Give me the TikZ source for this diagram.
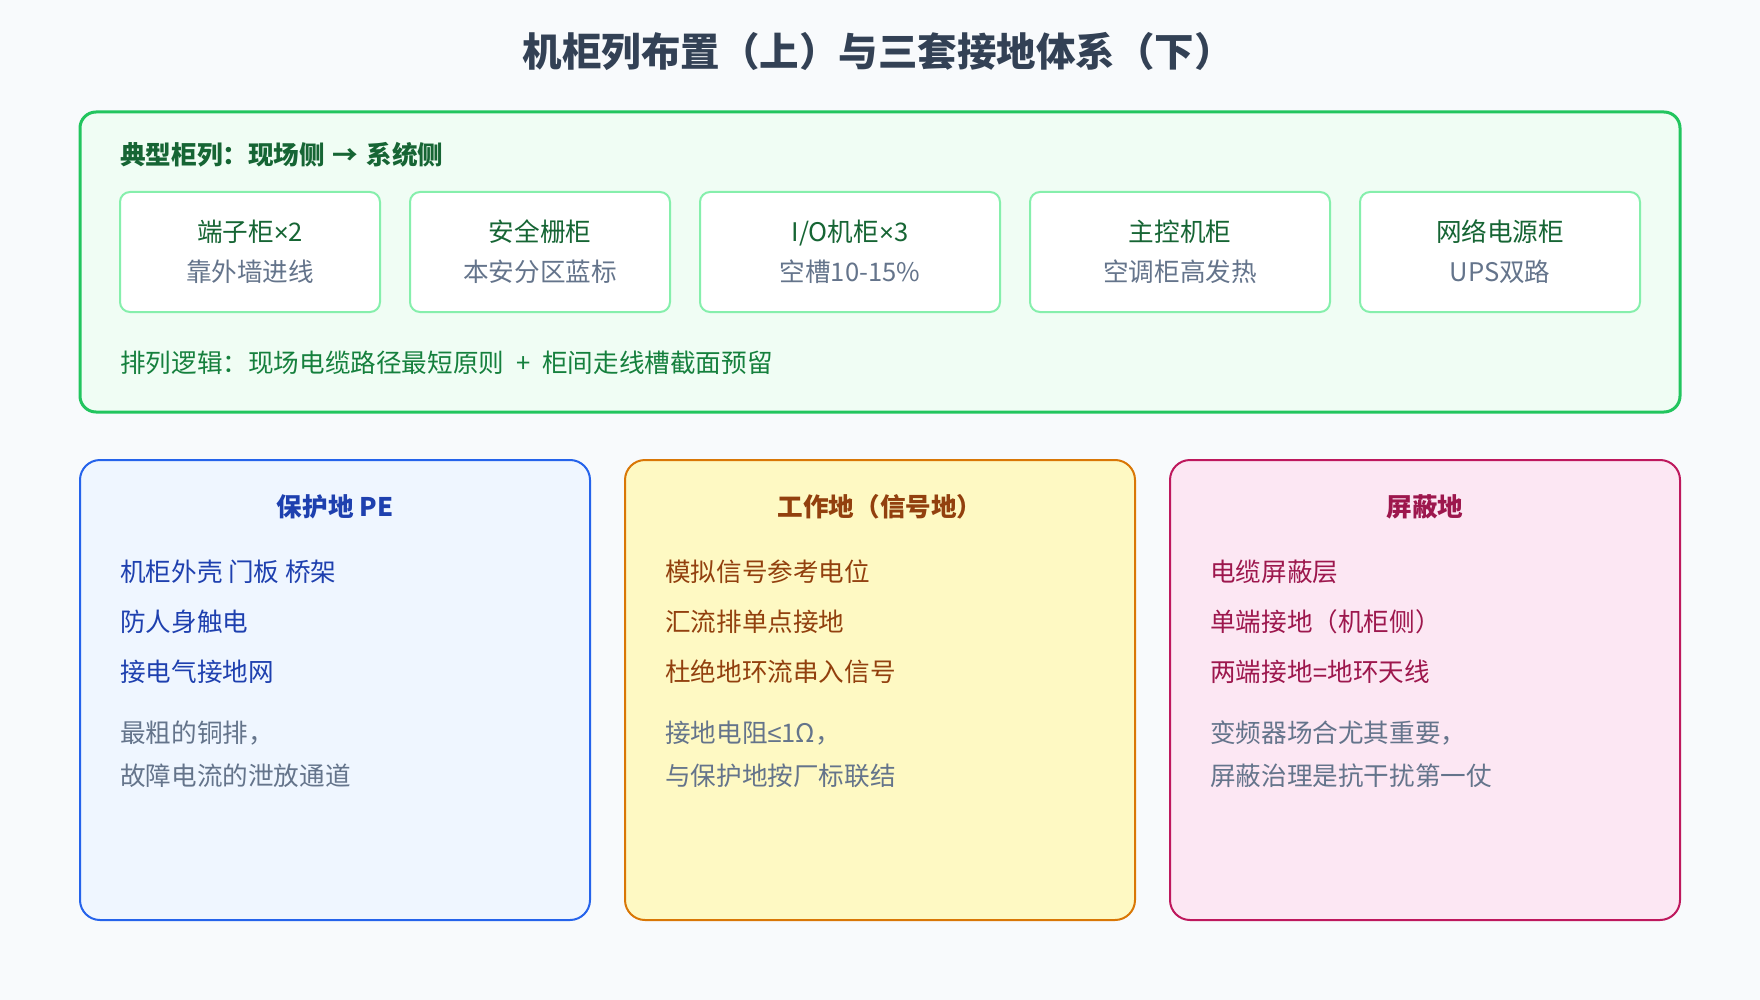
\documentclass[tikz,border=0pt]{standalone}
\usepackage{fontspec}
\setmainfont{Noto Sans CJK SC}
\newfontfamily\symfont{Liberation Sans}
\usepackage{tikz}

\definecolor{pagebg}{HTML}{F8FAFC}
\definecolor{titlefg}{HTML}{334155}
\definecolor{rowline}{HTML}{22C55E}
\definecolor{rowfill}{HTML}{F0FDF4}
\definecolor{rowhead}{HTML}{166534}
\definecolor{rownote}{HTML}{15803D}
\definecolor{cabline}{HTML}{86EFAC}
\definecolor{cabsub}{HTML}{64748B}
\definecolor{peline}{HTML}{2563EB}
\definecolor{pefill}{HTML}{EFF6FF}
\definecolor{petext}{HTML}{1E40AF}
\definecolor{wkline}{HTML}{D97706}
\definecolor{wkfill}{HTML}{FEF9C3}
\definecolor{wktext}{HTML}{92400E}
\definecolor{shline}{HTML}{BE185D}
\definecolor{shfill}{HTML}{FCE7F3}
\definecolor{shtext}{HTML}{9D174D}

\begin{document}
\begin{tikzpicture}[x=1pt, y=-1pt]
 \tikzstyle{titletext}=[text=titlefg, font=\fontsize{39.5}{46}\selectfont\bfseries, inner sep=0]
 \tikzstyle{rowpanel}=[draw=rowline, fill=rowfill, line width=3, rounded corners=16, minimum width=1600, minimum height=300]
 \tikzstyle{cab}=[draw=cabline, fill=white, line width=2, rounded corners=10, minimum height=120, align=center, text=rowhead, font=\fontsize{25.6}{40}\selectfont]
 \tikzstyle{gndpanel}=[line width=2, rounded corners=20, minimum width=510, minimum height=460]
 \tikzstyle{head}=[font=\fontsize{25.6}{30}\selectfont\bfseries, inner sep=0]
 \tikzstyle{item}=[anchor=west, font=\fontsize{25.6}{30}\selectfont, inner sep=0]
 \tikzstyle{note}=[anchor=west, align=left, text=cabsub, font=\fontsize{25.6}{43}\selectfont, inner sep=0]
 %
 \useasboundingbox (0, 0) rectangle (1760, 1000);
 \fill[pagebg] (0, 0) rectangle (1760, 1000);
 \node[titletext] (T) at (878, 51) {机柜列布置（上）与三套接地体系（下）};
 %
 \node[rowpanel] (Row) at (880, 262) {};
 \node[head, anchor=west, text=rowhead] (RowH) at (120, 155) {典型柜列：现场侧\hspace{8pt}→\hspace{8pt}系统侧};
 \node[cab, minimum width=260] (C1) at (250, 252) {端子柜{\symfont ×}2\\{\color{cabsub}靠外墙进线}};
 \node[cab, minimum width=260] (C2) at (540, 252) {安全栅柜\\{\color{cabsub}本安分区蓝标}};
 \node[cab, minimum width=300] (C3) at (850, 252) {I/O机柜{\symfont ×}3\\{\color{cabsub}空槽10-15\%}};
 \node[cab, minimum width=300] (C4) at (1180, 252) {主控机柜\\{\color{cabsub}空调柜高发热}};
 \node[cab, minimum width=280] (C5) at (1500, 252) {网络电源柜\\{\color{cabsub}UPS双路}};
 \node[item, text=rownote] (RowN) at (120, 363) {排列逻辑：现场电缆路径最短原则\hspace{12pt}+\hspace{12pt}柜间走线槽截面预留};
 %%
 \node[gndpanel, draw=peline, fill=pefill] (PE) at (335, 690) {};
 \node[head, text=petext] (PEh) at (335, 507) {保护地 PE};
 \node[item, text=petext] (PE1) at (120, 572) {机柜外壳 门板 桥架};
 \node[item, text=petext] (PE2) at (120, 622) {防人身触电};
 \node[item, text=petext] (PE3) at (120, 672) {接电气接地网};
 \node[note] (PEn) at (120, 754) {最粗的铜排，\\故障电流的泄放通道};
 %
 \node[gndpanel, draw=wkline, fill=wkfill] (WK) at (880, 690) {};
 \node[head, text=wktext] (WKh) at (880, 507) {工作地（信号地）};
 \node[item, text=wktext] (WK1) at (665, 572) {模拟信号参考电位};
 \node[item, text=wktext] (WK2) at (665, 622) {汇流排单点接地};
 \node[item, text=wktext] (WK3) at (665, 672) {杜绝地环流串入信号};
 \node[note] (WKn) at (665, 754) {接地电阻{\symfont ≤}1Ω，\\与保护地按厂标联结};
 %
 \node[gndpanel, draw=shline, fill=shfill] (SH) at (1425, 690) {};
 \node[head, text=shtext] (SHh) at (1425, 507) {屏蔽地};
 \node[item, text=shtext] (SH1) at (1210, 572) {电缆屏蔽层};
 \node[item, text=shtext] (SH2) at (1210, 622) {单端接地（机柜侧）};
 \node[item, text=shtext] (SH3) at (1210, 672) {两端接地{\symfont =}地环天线};
 \node[note] (SHn) at (1210, 754) {变频器场合尤其重要，\\屏蔽治理是抗干扰第一仗};
\end{tikzpicture}
\end{document}
